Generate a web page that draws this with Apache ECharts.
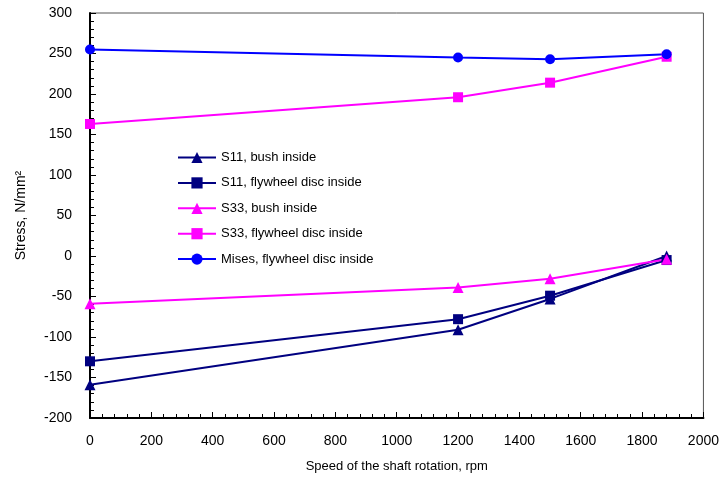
<!DOCTYPE html>
<html>
<head>
<meta charset="utf-8">
<script src="https://cdn.jsdelivr.net/npm/echarts@6/dist/echarts.min.js"></script>
<style>html,body{margin:0;padding:0;background:#fff;}#c{width:722px;height:480px;}</style>
</head>
<body>
<div id="c"></div>
<script>
const speeds = [0, 1200, 1500, 1880];
const s11Bush = [-159, -91, -53, 0];
const s11Fly = [-130, -78, -49, -5];
const s33Bush = [-59, -39, -28, -4];
const s33Fly = [163, 196, 214, 246];
const misesFly = [255, 245, 243, 249];
const seriesNames = ['S11, bush inside', 'S11, flywheel disc inside', 'S33, bush inside', 'S33, flywheel disc inside', 'Mises, flywheel disc inside'];
const seriesData = [s11Bush, s11Fly, s33Bush, s33Fly, misesFly];
const colors = ['#000080', '#000080', '#ff00ff', '#ff00ff', '#0000ff'];
const symbols = ['triangle', 'rect', 'triangle', 'rect', 'circle'];
const yTitle = 'Stress, N/mm²';
const xTitle = 'Speed of the shaft rotation, rpm';

const chart = echarts.init(document.getElementById('c'), null, {renderer: 'canvas'});
const font = 'Liberation Sans, Arial, sans-serif';
chart.setOption({
  animation: false,
  backgroundColor: '#fff',
  textStyle: {fontFamily: font},
  grid: {left: 90, right: 18, top: 13, bottom: 62, show: true, borderColor: '#555', borderWidth: 1},
  legend: {
    orient: 'vertical', left: 172, top: 146, itemWidth: 38, itemHeight: 14, itemGap: 12.4,
    textStyle: {fontSize: 13, color: '#000', fontFamily: font},
    data: seriesNames
  },
  xAxis: {
    type: 'value', min: 0, max: 2000, interval: 200,
    name: xTitle, nameLocation: 'middle', nameGap: 42,
    nameTextStyle: {fontSize: 13, color: '#000', fontFamily: font},
    axisLine: {onZero: false, lineStyle: {color: '#000', width: 2}},
    axisTick: {inside: true, length: 6, lineStyle: {color: '#000', width: 1}},
    minorTick: {show: true, splitNumber: 5, length: 4, lineStyle: {color: '#000'}},
    axisLabel: {fontSize: 14, color: '#000', margin: 16, fontFamily: font, formatter: v => String(v)},
    splitLine: {show: false}
  },
  yAxis: {
    type: 'value', min: -200, max: 300, interval: 50,
    name: yTitle, nameLocation: 'middle', nameGap: 62,
    nameTextStyle: {fontSize: 14, color: '#000', fontFamily: font},
    axisLine: {onZero: false, lineStyle: {color: '#000', width: 2}},
    axisTick: {inside: true, length: 6, lineStyle: {color: '#000', width: 1}},
    minorTick: {show: true, splitNumber: 5, length: 4, lineStyle: {color: '#000'}},
    axisLabel: {fontSize: 14, color: '#000', margin: 18, fontFamily: font, formatter: v => String(v)},
    splitLine: {show: false}
  },
  series: seriesNames.map((n, i) => ({
    name: n, type: 'line',
    data: speeds.map((s, j) => [s, seriesData[i][j]]),
    symbol: symbols[i], symbolSize: symbols[i] === 'triangle' ? 11 : 10,
    showSymbol: true,
    lineStyle: {color: colors[i], width: 2},
    itemStyle: {color: colors[i]},
    emphasis: {disabled: true}
  }))
});
</script>
</body>
</html>
